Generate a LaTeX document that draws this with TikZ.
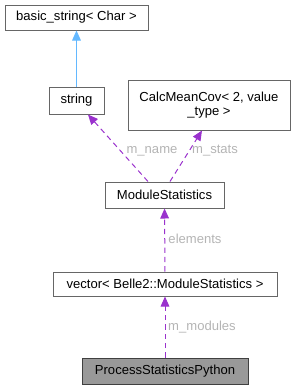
\documentclass[tikz,border=0pt]{standalone}
\usepackage{fontspec}
\setmainfont{Liberation Sans}
\usetikzlibrary{arrows.meta}
\definecolor{edgepurple}{HTML}{9A32CD}
\definecolor{edgeblue}{HTML}{63B8FF}
\definecolor{boxgray}{HTML}{666666}
\definecolor{labgray}{HTML}{B4B4B4}
\begin{document}
\begin{tikzpicture}[x=0.75pt, y=-0.75pt, font=\fontsize{9.8}{11}\selectfont,
    cls/.style={draw=boxgray, fill=white, line width=0.75pt, inner sep=1pt, align=center},
    usage/.style={edgepurple, line width=0.75pt, dash pattern=on 4pt off 3pt, -{Triangle[length=7.5pt, width=6.5pt]}},
    inherit/.style={edgeblue, line width=0.75pt, -{Triangle[length=7.5pt, width=6.5pt]}},
    lab/.style={text=labgray, inner sep=0pt}]
            \useasboundingbox (0,0) rectangle (295,389);
            \node[cls, minimum width=107.25pt, minimum height=18.75pt] (bs) at (76.5,17.5) {basic\_string< Char >};
            \node[cls, minimum width=41.25pt, minimum height=20.25pt] (str) at (76.5,100.5) {string};
            \node[cls, minimum width=121.5pt, minimum height=37.5pt] (cmc) at (209,105) {CalcMeanCov< 2, value\\\_type >};
            \node[cls, minimum width=89.25pt, minimum height=19.5pt] (ms) at (164.5,195) {ModuleStatistics};
            \node[cls, minimum width=168pt, minimum height=18pt] (vec) at (165,284) {vector< Belle2::ModuleStatistics >};
            \node[cls, draw=black!75, fill=black!40, minimum width=124.5pt, minimum height=19.5pt] (psp) at (165,371) {ProcessStatisticsPython};
            \draw[inherit] (str) -- (bs);
            \draw[usage] ([xshift=-12.4pt]ms.north) -- ([xshift=8.6pt]str.south);
            \draw[usage] ([xshift=4.1pt]ms.north) -- ([xshift=-5.25pt]cmc.south);
            \draw[usage] (vec) -- (ms);
            \draw[usage] (psp) -- (vec);
            % edge labels
            \node[lab] (lname) at (152,151) {m\_name}; \node[lab] (lstats) at (215,151) {m\_stats};
            \node[lab] (lelem) at (195,239) {elements}; \node[lab] (lmod) at (202,327) {m\_modules};
        \end{tikzpicture}
\end{document}
